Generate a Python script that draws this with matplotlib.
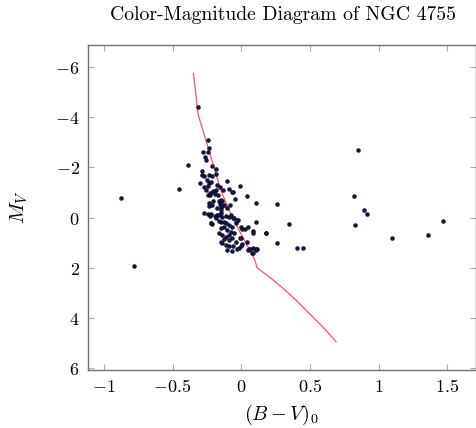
import matplotlib
matplotlib.use("Agg")
import matplotlib.pyplot as plt
from matplotlib.ticker import FixedLocator, FixedFormatter

plt.rcParams['mathtext.fontset'] = 'cm'
plt.rcParams['axes.unicode_minus'] = True

# Star data: (B-V)_0 and M_V
bv = [-0.878, -0.777, -0.313, -0.451, -0.386,
      -0.241, -0.231, -0.241, -0.280, -0.265, -0.256, -0.210, -0.186, -0.282,
      -0.181, -0.287, -0.272, -0.234, -0.212, -0.101, -0.010, -0.297, -0.246,
      -0.234, -0.222, -0.272, -0.243, -0.178, -0.154, -0.207, -0.186, -0.198,
      -0.130, -0.089, -0.065, -0.241, -0.224, -0.190, -0.169, 0.039, 0.104,
      0.263, -0.203, -0.140, -0.125, -0.156, -0.229, -0.234, -0.145, -0.082,
      -0.272, -0.239, -0.174, -0.149, -0.113, -0.089, -0.058,
      0.345, 0.261, 0.179, 0.104, 0.083, 0.406, 0.447, 0.049, 0.025, -0.048,
      -0.022, -0.004, 0.049, 0.087, 0.116, 0.080, -0.219, -0.212, -0.229,
      -0.193,
      -0.217, -0.038, -0.004, 0.007, 0.085, 0.177, 0.003, 0.109, 0.085,
      0.061, -0.017, -0.065, -0.101, -0.138, -0.149, -0.113, -0.089, -0.060,
      -0.161, -0.138, -0.113, -0.089, -0.065, -0.149, -0.125, -0.101, -0.077,
      -0.149, -0.113, -0.089, -0.065, -0.053, -0.089, -0.125, -0.041, -0.029,
      -0.258, -0.227, -0.058, -0.234, -0.210, -0.161, -0.149, -0.174, -0.149,
      -0.138, -0.101, -0.222, -0.161, -0.138, -0.077, -0.053, -0.029, -0.186,
      -0.161, -0.125, 0.043, 0.056, 0.109, -0.004, -0.010,
      0.847, 0.818, 0.896, 0.912, 0.831, 1.100, 1.360, 1.466]
mv = [-0.77, 1.92, -4.42, -1.13, -2.09,
      -3.10, -2.76, -2.63, -2.62, -2.43, -2.30, -2.07, -1.95, -1.86,
      -1.73, -1.71, -1.65, -1.70, -1.67, -1.46, -1.27, -1.37, -1.50,
      -1.37, -1.41, -1.20, -1.24, -1.29, -1.22, -1.06, -1.08, -1.02,
      -1.10, -1.14, -1.01, -0.90, -0.90, -0.94, -0.90, -0.84, -0.57,
      -0.52, -0.64, -0.64, -0.51, -0.53, -0.51, -0.44, -0.41, -0.51,
      -0.17, -0.13, -0.11, -0.17, -0.08, -0.04, 0.00,
      0.26, 1.00, 0.60, 0.17, 0.54, 1.22, 1.22, 0.38, 0.46, -0.73,
      0.09, 0.82, 1.29, 1.22, 1.25, 1.42, 0.20, 0.25, -0.07,
      -0.07,
      0.22, 0.22, 0.36, 0.46, 0.60, 0.60, 1.05, 1.26, 1.42,
      1.26, 1.22, 1.33, 1.31, 1.02, 0.96, 1.09, 1.15, 1.13,
      0.62, 0.69, 0.76, 0.69, 0.82, 0.42, 0.36, 0.49, 0.56,
      0.16, 0.22, 0.29, 0.36, 0.62, 0.89, 0.86, 0.96, 1.26,
      -1.10, -0.97, -1.01, -0.57, -0.51, -0.64, -0.71, -0.37, -0.31,
      -0.44, -0.37, -0.13, -0.11, -0.04, -0.11, 0.02, 0.09, 0.02,
      0.13, 0.18, 0.96, 1.26, 1.29, 1.15, 0.82,
      -2.68, -0.85, -0.29, -0.13, 0.28, 0.81, 0.70, 0.14]

# Zero-age main sequence (red line)
zams_bv = [-0.348, -0.313, -0.280, -0.149, -0.065, 0.099, 0.115, 0.20, 0.30, 0.40, 0.50, 0.60, 0.69]
zams_mv = [-5.75, -4.10, -3.50, -1.10, 0.00, 1.69, 2.00, 2.35, 2.80, 3.30, 3.85, 4.40, 4.95]

xticks = [-1, -0.5, 0, 0.5, 1, 1.5]
xticklabels = ['$-1$', '$-0.5$', '$0$', '$0.5$', '$1$', '$1.5$']
yticks = [-6, -4, -2, 0, 2, 4, 6]
yticklabels = ['$-6$', '$-4$', '$-2$', '$0$', '$2$', '$4$', '$6$']

fig = plt.figure(figsize=(4.76, 4.28), dpi=100)
ax = fig.add_axes([88 / 476, 58 / 428, 387.5 / 476, 325 / 428])

ax.plot(zams_bv, zams_mv, color='#ff5060', lw=0.9, zorder=2)
ax.scatter(bv, mv, s=8, color='#141450', edgecolors='black', linewidths=0.3, zorder=3)

ax.set_xlim(-1.115, 1.705)
ax.set_ylim(6.08, -6.88)

ax.xaxis.set_major_locator(FixedLocator(xticks))
ax.xaxis.set_major_formatter(FixedFormatter(xticklabels))
ax.yaxis.set_major_locator(FixedLocator(yticks))
ax.yaxis.set_major_formatter(FixedFormatter(yticklabels))

ax.tick_params(direction='in', length=4, width=0.8, color='#aaaaaa',
               top=True, right=True, labelsize=13, pad=6)
for s in ax.spines.values():
    s.set_color('#707070')
    s.set_linewidth(1.0)

ax.set_xlabel('$(B-V)_0$', fontsize=14.5, labelpad=5)
ax.set_ylabel('$M_V$', fontsize=15, labelpad=18)
fig.text(0.595, 0.965, 'Color-Magnitude Diagram of NGC 4755', ha='center', va='center',
         fontsize=14.2, family='cmr10')

fig.savefig('out.png', dpi=100)
